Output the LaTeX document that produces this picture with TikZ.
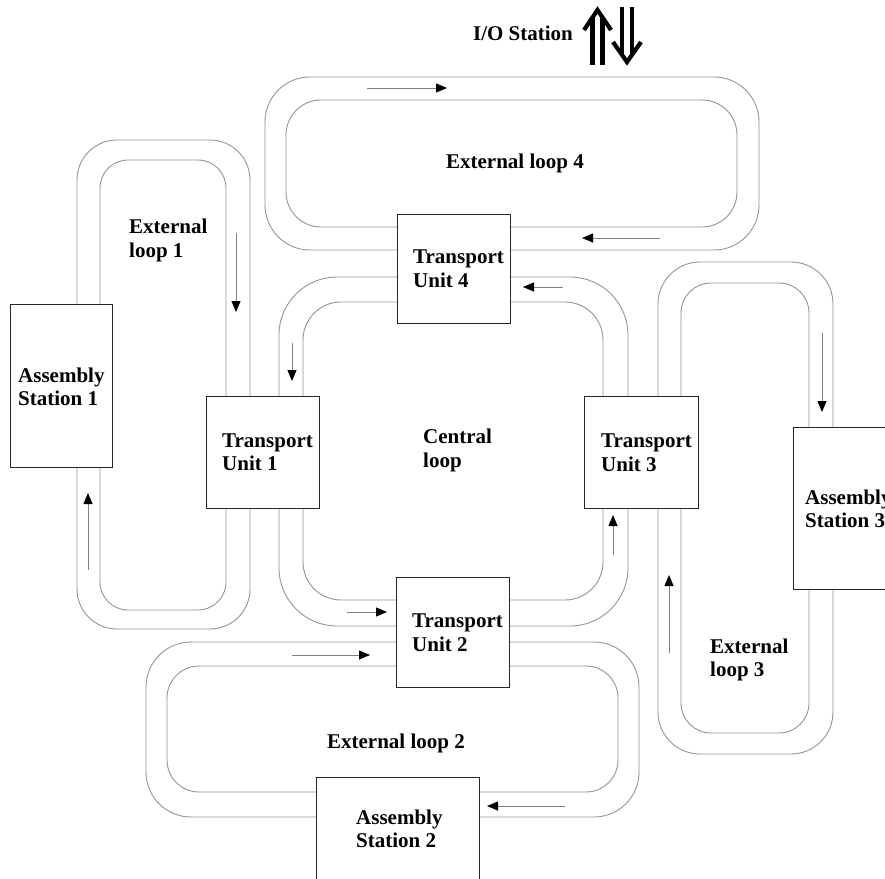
\documentclass[tikz,border=0pt]{standalone}
\usepackage{fontspec}
\setmainfont{Liberation Serif}
\usetikzlibrary{arrows.meta}

\begin{document}
\begin{tikzpicture}[x=1pt,y=-1pt,
  track/.style={draw=black!42, line width=0.9pt},
  box/.style={draw=black!85, line width=1pt, fill=white, inner sep=0pt},
  lbl/.style={font=\fontsize{21}{23.5}\selectfont\bfseries, align=left, inner sep=0pt},
  flow/.style={draw=black!50, line width=0.8pt,
    -{Triangle[length=11pt,width=9pt,color=black]}},
  io/.style={draw=black, line width=4.2pt},
]
\useasboundingbox (0,0) rectangle (885,878);

% ---- conveyor tracks (two rails per loop) ----
% external loop 4
\draw[track, rounded corners=45pt] (265,77) rectangle (759,250);
\draw[track, rounded corners=35pt] (286,100) rectangle (737,227);
% external loop 1
\draw[track, rounded corners=40pt] (77,140) rectangle (250,629);
\draw[track, rounded corners=28pt] (100,160) rectangle (226,610);
% central loop
\draw[track, rounded corners=58pt] (279,277) rectangle (628,626);
\draw[track, rounded corners=38pt] (303,302) rectangle (603,600);
% external loop 3
\draw[track, rounded corners=42pt] (658,262) rectangle (833,754);
\draw[track, rounded corners=30pt] (681,283) rectangle (809,733);
% external loop 2
\draw[track, rounded corners=45pt] (146,642) rectangle (639,817);
\draw[track, rounded corners=32pt] (167,666) rectangle (618,792);

% ---- stations and transport units ----
\node[box, minimum width=102pt, minimum height=163pt] (as1) at (61,385.5) {};
\node[box, minimum width=113pt, minimum height=112pt] (tu1) at (262.5,452) {};
\node[box, minimum width=113pt, minimum height=109pt] (tu4) at (453.5,268.5) {};
\node[box, minimum width=113pt, minimum height=110pt] (tu2) at (452.5,632) {};
\node[box, minimum width=114pt, minimum height=112pt] (tu3) at (641,452) {};
\node[box, minimum width=111pt, minimum height=162pt] (as3) at (848.5,508) {};
\node[box, minimum width=163pt, minimum height=105pt] (as2) at (397.5,829.5) {};

\node[lbl, anchor=west] (as1txt) at (18,387) {Assembly\\Station 1};
\node[lbl, anchor=west] (tu1txt) at (222,452) {Transport\\Unit 1};
\node[lbl, anchor=west] (tu4txt) at (413,268.5) {Transport\\Unit 4};
\node[lbl, anchor=west] (tu2txt) at (412,632.5) {Transport\\Unit 2};
\node[lbl, anchor=west] (tu3txt) at (601,452.5) {Transport\\Unit 3};
\node[lbl, anchor=west] (as3txt) at (805,509) {Assembly\\Station 3};
\node[lbl, anchor=west] (as2txt) at (356,829) {Assembly\\Station 2};

% ---- loop names ----
\node[lbl, anchor=west] (central) at (423,450.5) {Central\\loop};
\node[lbl, anchor=west] (ext1) at (129,240.5) {External\\loop 1};
\node[lbl, anchor=west] (ext3) at (710,660) {External\\loop 3};
\node[lbl] (ext4) at (515,163) {External loop 4};
\node[lbl] (ext2) at (396,743) {External loop 2};
\node[lbl] (iost) at (523,33) {I/O Station};

% ---- direction of travel ----
\draw[flow] (367,88) -- (447,88);
\draw[flow] (660,238) -- (582,238);
\draw[flow] (563,287) -- (523,287);
\draw[flow] (236,233) -- (236,312);
\draw[flow] (292,343) -- (292,381);
\draw[flow] (88,570) -- (88,493);
\draw[flow] (347,612) -- (387,612);
\draw[flow] (292,655) -- (370,655);
\draw[flow] (613,555) -- (613,515);
\draw[flow] (669,653) -- (669,575);
\draw[flow] (822,333) -- (822,412);
\draw[flow] (565,806) -- (487,806);

% ---- in/out arrows of the I/O station ----
\draw[io] (592.5,65) -- (592.5,17);
\draw[io] (602.5,65) -- (602.5,17);
\draw[io, line join=miter, line cap=butt] (584,30) -- (597.5,10) -- (611,30);
\draw[io] (622,7) -- (622,55);
\draw[io] (632,7) -- (632,55);
\draw[io, line join=miter, line cap=butt] (613,42) -- (627,62) -- (641,42);
\end{tikzpicture}
\end{document}
